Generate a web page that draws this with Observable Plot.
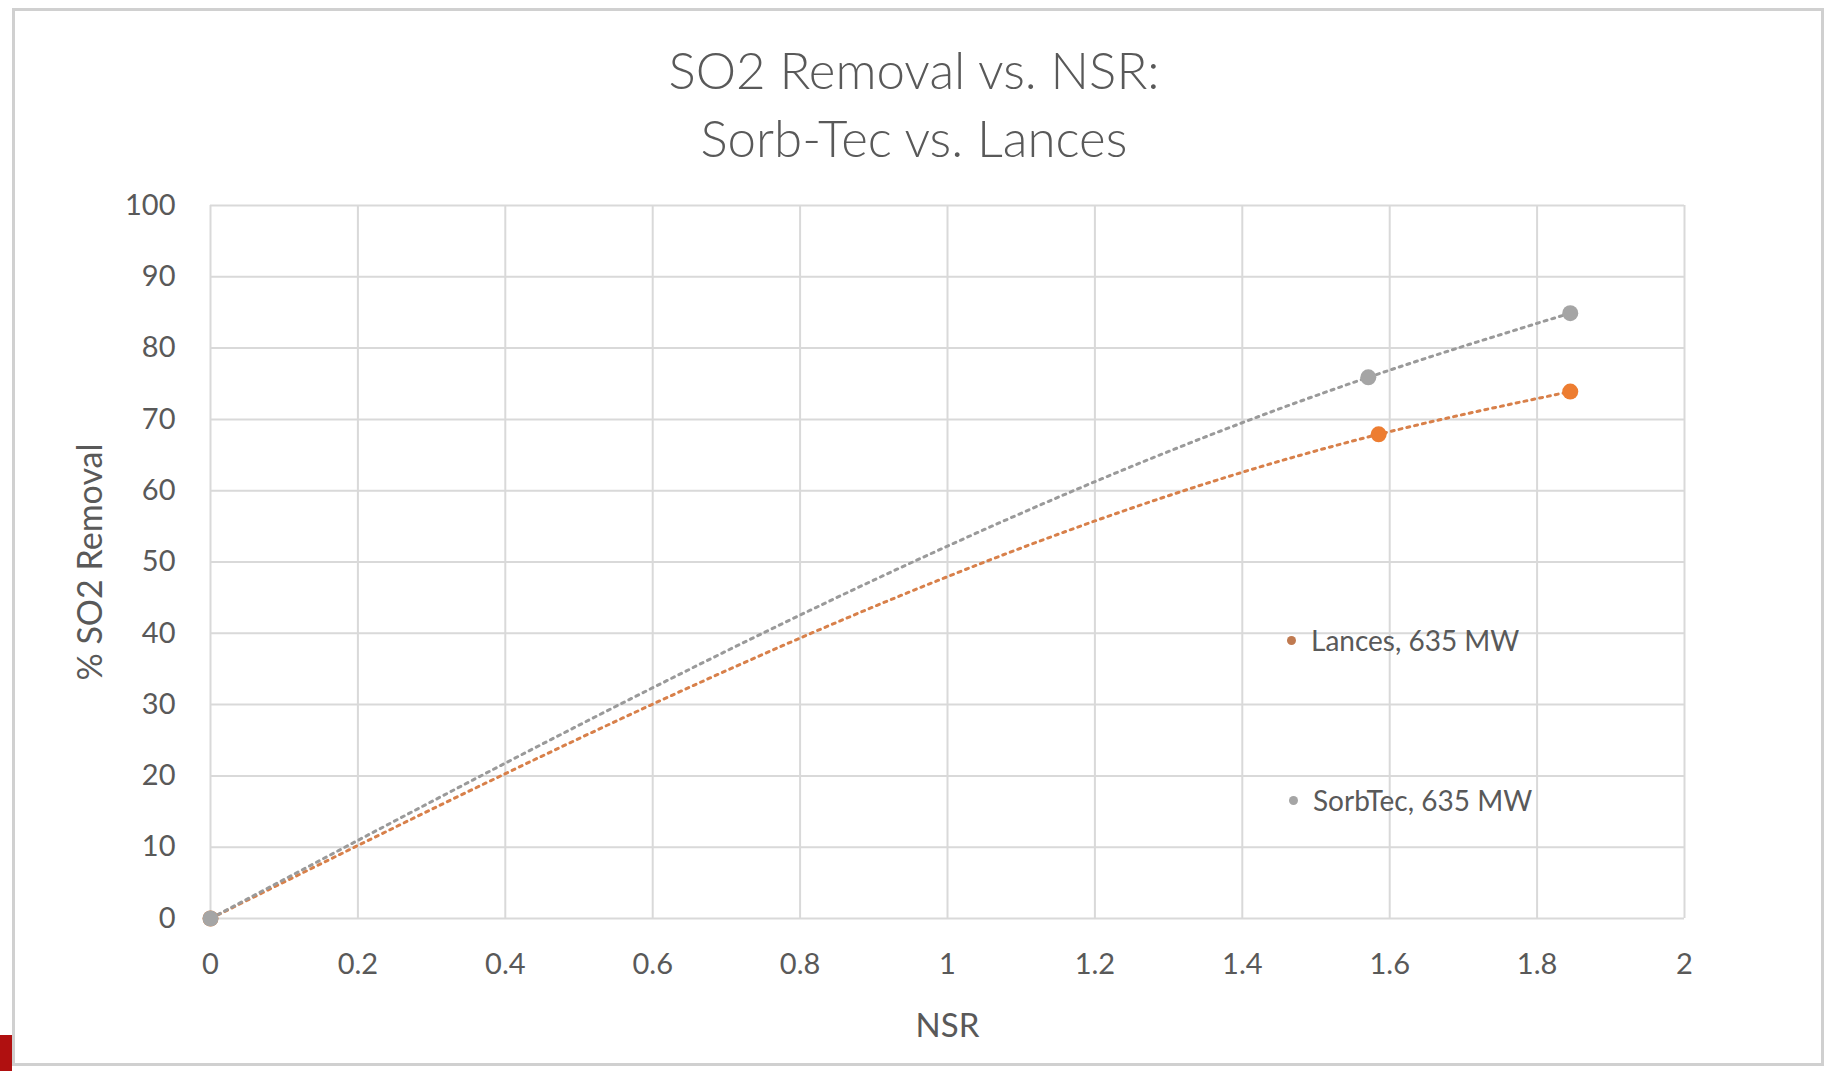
<!DOCTYPE html>
<html>
<head>
<meta charset="utf-8">
<script src="https://cdn.jsdelivr.net/npm/d3@7"></script>
<script src="https://cdn.jsdelivr.net/npm/@observablehq/plot@0.6"></script>
<style>
  html, body { margin: 0; padding: 0; background: #fff; }
  #page { position: relative; width: 1828px; height: 1071px; overflow: hidden; font-family: Lato, "Open Sans", sans-serif; }
  #frame { position: absolute; left: 12px; top: 8px; width: 1812px; height: 1058px; border: 3px solid #d0d0d0; box-sizing: border-box; }
  #title { position: absolute; left: 0; width: 1828px; top: 36px; text-align: center; color: #595959; font-size: 51px; font-weight: 300; line-height: 68px; }
  #chart { position: absolute; left: 0; top: 180px; }
  .leg { position: absolute; display: flex; align-items: center; color: #595959; font-size: 28px; }
  .leg .m { width: 9px; height: 9px; border-radius: 50%; margin-right: 15px; }
  #redmark { position: absolute; left: 0; top: 1035px; width: 12px; height: 36px; background: #b01010; }
</style>
</head>
<body>
<div id="page">
  <div id="frame"></div>
  <div id="redmark"></div>
  <div id="title">SO2 Removal vs. NSR:<br>Sorb-Tec vs. Lances</div>
  <div id="chart"></div>
  <div id="legend"></div>
</div>
<script>
// ---- data ----
const seriesNames = ["Lances, 635 MW", "SorbTec, 635 MW"];
const seriesColors = ["#ed7d31", "#a5a5a5"];
const lancesNSR = [0, 1.585, 1.845];
const lancesRemoval = [0, 67.9, 73.9];
const sorbtecNSR = [0, 1.571, 1.845];
const sorbtecRemoval = [0, 75.9, 84.9];
const xTicks = [0, 0.2, 0.4, 0.6, 0.8, 1, 1.2, 1.4, 1.6, 1.8, 2];
const yTicks = [0, 10, 20, 30, 40, 50, 60, 70, 80, 90, 100];
const xLabel = "NSR";
const yLabel = "% SO2 Removal";

const lances = lancesNSR.map((x, i) => ({series: seriesNames[0], x, y: lancesRemoval[i]}));
const sorbtec = sorbtecNSR.map((x, i) => ({series: seriesNames[1], x, y: sorbtecRemoval[i]}));

const W = 1828, H = 891;
const font = "Lato, 'Open Sans', sans-serif";

const plot = Plot.plot({
  width: W,
  height: H,
  marginLeft: 210,
  marginRight: 144,
  marginTop: 25,
  marginBottom: 153,
  style: {fontFamily: font, fontSize: "29px", color: "#595959", background: "transparent"},
  x: {domain: [0, 2], ticks: xTicks, tickFormat: d => String(+d.toFixed(1)), tickSize: 0, tickPadding: 35, label: null},
  y: {domain: [0, 100], ticks: yTicks, tickSize: 0, tickPadding: 35, label: null},
  marks: [
    Plot.gridX(xTicks, {stroke: "#d9d9d9", strokeOpacity: 1, strokeWidth: 2}),
    Plot.gridY(yTicks, {stroke: "#d9d9d9", strokeOpacity: 1, strokeWidth: 2}),
    Plot.axisX({ticks: xTicks, tickFormat: d => String(+d.toFixed(1)), tickSize: 0, tickPadding: 35, fill: "#595959", label: null}),
    Plot.axisY({ticks: yTicks, tickSize: 0, tickPadding: 35, fill: "#595959", label: null}),
    Plot.line(lances, {x: "x", y: "y", curve: "monotone-x", stroke: "#d8804a", strokeWidth: 3, strokeDasharray: "3,5"}),
    Plot.line(sorbtec, {x: "x", y: "y", curve: "monotone-x", stroke: "#9a9a9a", strokeWidth: 3, strokeDasharray: "3,5"}),
    Plot.dot(lances, {x: "x", y: "y", r: 8, fill: seriesColors[0], stroke: "none"}),
    Plot.dot(sorbtec, {x: "x", y: "y", r: 8, fill: seriesColors[1], stroke: "none"}),
    Plot.text([xLabel], {frameAnchor: "bottom", dy: 118, text: d => d, fontSize: 33, fill: "#595959"}),
    Plot.text([yLabel], {frameAnchor: "left", dx: -119, rotate: -90, textAnchor: "middle", text: d => d, fontSize: 34, fill: "#595959"})
  ]
});
document.getElementById("chart").appendChild(plot);

// legend (HTML overlay)
const legPos = [[1287, 640], [1289, 800]];
const legend = document.getElementById("legend");
seriesNames.forEach((name, i) => {
  const d = document.createElement("div");
  d.className = "leg";
  d.style.left = legPos[i][0] + "px";
  d.style.top = (legPos[i][1] - 18) + "px";
  d.style.height = "36px";
  d.innerHTML = `<span class="m" style="background:${i === 0 ? "#c07a50" : seriesColors[1]}"></span><span>${name}</span>`;
  legend.appendChild(d);
});
</script>
</body>
</html>
